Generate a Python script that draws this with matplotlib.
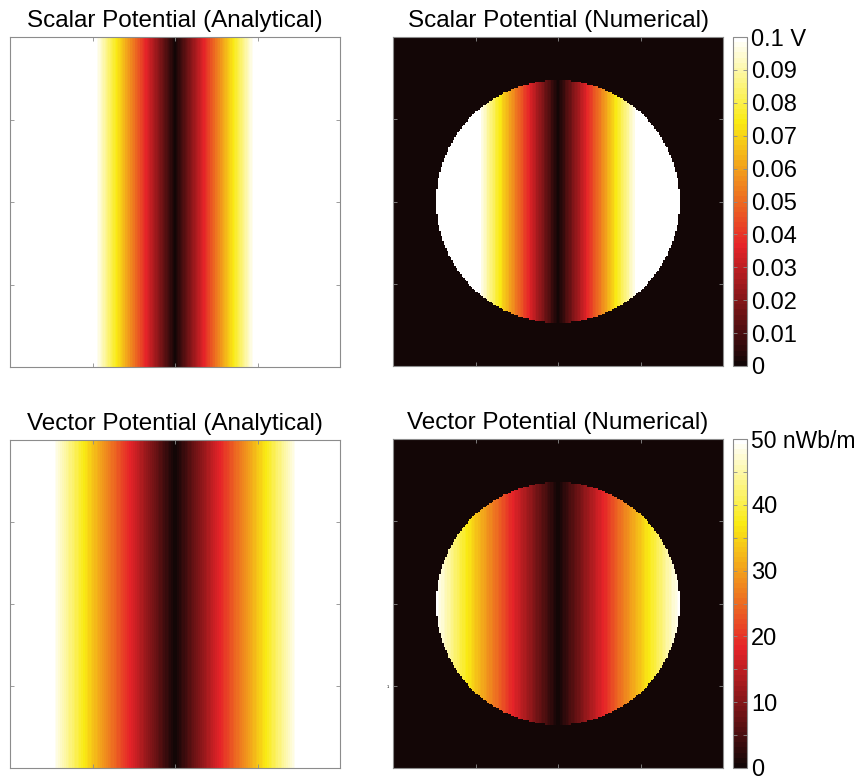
import numpy as np
import matplotlib.pyplot as plt
from matplotlib.colors import ListedColormap

plt.rcParams['font.family'] = ['Liberation Sans', 'DejaVu Sans']

# field settings (x normalised to [-1, 1] across each panel)
titles = ['Scalar Potential (Analytical)', 'Scalar Potential (Numerical)',
          'Vector Potential (Analytical)', 'Vector Potential (Numerical)']
scalar_max = 0.1          # V, top of colour scale
scalar_sat_x = 0.48       # |x| where the analytical scalar potential reaches 0.1 V
vector_max = 50           # nWb/m
vector_sat_x = 0.745      # |x| where the analytical vector potential reaches 50 nWb/m
circle_r = 0.74           # radius of the numerical domain
scalar_ticks = [0, 0.01, 0.02, 0.03, 0.04, 0.05, 0.06, 0.07, 0.08, 0.09, 0.1]
scalar_labels = ['0', '0.01', '0.02', '0.03', '0.04', '0.05', '0.06', '0.07', '0.08', '0.09', '0.1 V']
vector_ticks = [0, 10, 20, 30, 40, 50]
vector_labels = ['0', '10', '20', '30', '40', '50 nWb/m']
vector_minor = [5, 15, 25, 35, 45]

W, H = 865, 781
fig = plt.figure(figsize=(W / 100, H / 100), dpi=100)


def px_axes(x0, y0, x1, y1):
    return fig.add_axes([x0 / W, 1 - y1 / H, (x1 - x0) / W, (y1 - y0) / H])


# matlab-like 'hot' with 64 levels, toned a bit like the printed figure
base = plt.get_cmap('hot', 64)(np.arange(64))[:, :3]
M = np.array([[0.86, 0.08, 0.02],
              [0.12, 0.78, 0.08],
              [0.14, -0.08, 0.92]])
off = np.array([0.04, 0.02, 0.02])
hot = ListedColormap(np.clip(base @ M.T + off, 0, 1))
grey = '#8c8c8c'

n_fine = 400
xf = np.linspace(-1, 1, n_fine)
n_num = 221
xn = np.linspace(-1, 1, n_num)
XN, YN = np.meshgrid(xn, xn)
inside = XN ** 2 + YN ** 2 <= circle_r ** 2

scalar_an = np.tile(np.clip(scalar_max * np.abs(xf) / scalar_sat_x, 0, scalar_max), (n_fine, 1))
vector_an = np.tile(np.clip(vector_max * np.abs(xf) / vector_sat_x, 0, vector_max), (n_fine, 1))
scalar_num = np.where(inside, np.clip(scalar_max * np.abs(XN) / scalar_sat_x, 0, scalar_max), 0)
vector_num = np.where(inside, np.clip(vector_max * np.abs(XN) / vector_sat_x, 0, vector_max), 0)

boxes = [(10, 37, 340, 367), (393, 37, 723, 366), (10, 440, 340, 768), (393, 439, 723, 768)]
fields = [scalar_an, scalar_num, vector_an, vector_num]
vmax = [scalar_max, scalar_max, vector_max, vector_max]

ims = []
for box, data, title, vm in zip(boxes, fields, titles, vmax):
    ax = px_axes(*box)
    im = ax.imshow(data, cmap=hot, vmin=0, vmax=vm, extent=[-1, 1, -1, 1],
                   origin='lower', aspect='auto', interpolation='nearest')
    ax.set_xticks([-0.5, 0, 0.5])
    ax.set_yticks([-0.5, 0, 0.5])
    ax.set_xticklabels([])
    ax.set_yticklabels([])
    ax.tick_params(direction='in', length=3, width=0.6, color=grey,
                   top=True, right=True)
    for s in ax.spines.values():
        s.set_color(grey)
        s.set_linewidth(0.8)
    ax.set_title(title, fontsize=17.5, pad=7)
    ims.append(im)

cb_boxes = [(733, 37, 747, 366), (733, 439, 747, 768)]
for cbox, im, ticks, labels in zip(cb_boxes, [ims[1], ims[3]],
                                   [scalar_ticks, vector_ticks],
                                   [scalar_labels, vector_labels]):
    cax = px_axes(*cbox)
    cb = fig.colorbar(im, cax=cax)
    cb.set_ticks(ticks)
    cb.set_ticklabels(labels)
    cb.outline.set_edgecolor(grey)
    cb.outline.set_linewidth(0.8)
    cax.tick_params(direction='in', length=3, width=0.6, color=grey,
                    left=True, right=True, labelsize=17, pad=3)

cb.ax.set_yticks(vector_minor, minor=True)
cb.ax.tick_params(which='minor', direction='in', length=3, width=0.6,
                  color=grey, left=True, right=True)
cb.ax.get_yticklabels()[-1].set_fontsize(16.5)

fig.text(388 / W, 1 - 687 / H, '1', fontsize=3, ha='center', va='center')

fig.savefig('out.png', dpi=100)
